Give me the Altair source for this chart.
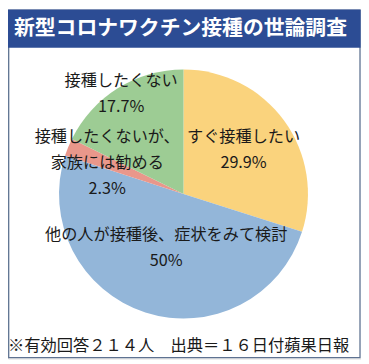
import altair as alt
import pandas as pd

title_text = "新型コロナワクチン接種の世論調査"
footer_text = "※有効回答２１４人　出典＝１６日付蘋果日報"
categories = ["すぐ接種したい", "他の人が接種後、症状をみて検討", "接種したくないが、\n家族には勧める", "接種したくない"]
values = [29.9, 50, 2.3, 17.7]
pct_labels = ["29.9%", "50%", "2.3%", "17.7%"]
colors = ["#FAD37D", "#93B6D9", "#E9978B", "#9DCC94"]

df = pd.DataFrame({"idx": list(range(len(values))), "cat": categories, "value": values, "pct": pct_labels})
df["text"] = df["cat"] + "\n" + df["pct"]

FONT = "Noto Sans CJK JP"
CX, CY, R = 177, 186, 125.5
LH = 26
label_radii = [75, 57, 83, 119]

base = alt.Chart(df).encode(
    theta=alt.Theta("value:Q", stack=True),
    order=alt.Order("idx:Q"),
)
pie = base.mark_arc(outerRadius=R).encode(
    color=alt.Color("cat:N", scale=alt.Scale(domain=categories, range=colors), legend=None),
    x=alt.value(CX), y=alt.value(CY),
)
texts = []
for i, r in enumerate(label_radii):
    n_lines = df["text"][i].count("\n") + 1
    texts.append(
        base.transform_calculate(t=f"datum.idx == {i} ? datum.text : ''")
        .mark_text(radius=r, lineBreak="\n", lineHeight=LH, font=FONT, fontSize=16.3,
                   color="#1a1a1a", align="center", baseline="middle",
                   dy=-(n_lines - 1) * LH / 2)
        .encode(text="t:N", x=alt.value(CX), y=alt.value(CY))
    )

one = alt.Chart(pd.DataFrame({"title": [title_text], "footer": [footer_text]}))
frame = one.mark_rect(filled=False, stroke="#5E7291", strokeWidth=1.3).encode(
    x=alt.value(0.7), x2=alt.value(355), y=alt.value(1), y2=alt.value(351))
bar = one.mark_rect(fill="#2C4C94").encode(
    x=alt.value(0), x2=alt.value(355.6), y=alt.value(0), y2=alt.value(38.5))
title = one.mark_text(font=FONT, fontSize=21, fontWeight="bold", color="white",
                      align="left", baseline="middle").encode(
    text="title:N", x=alt.value(6), y=alt.value(20))
footer = one.mark_text(font=FONT, fontSize=16.4, color="#1a1a1a",
                       align="left", baseline="middle").encode(
    text="footer:N", x=alt.value(0), y=alt.value(339))

chart = alt.layer(frame, pie, *texts, bar, title, footer).properties(
    width=356, height=352, padding=0,
    autosize=alt.AutoSizeParams(type="none"),
).configure_view(stroke=None).configure(background="white")

chart.save("out.html", embed_options={"renderer": "svg", "actions": False})
